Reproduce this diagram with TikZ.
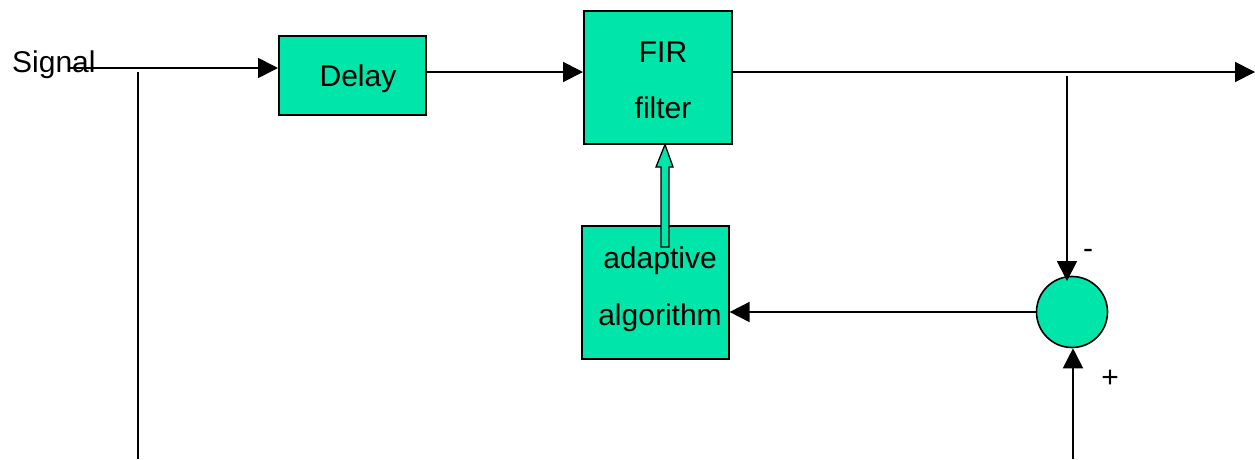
\documentclass[tikz,border=0pt]{standalone}
\usepackage{fontspec}
\setmainfont{Liberation Sans}
\usetikzlibrary{arrows.meta}
\definecolor{blockgreen}{RGB}{0,229,170}
\begin{document}
\begin{tikzpicture}[x=1pt,y=-1pt,
  blk/.style={draw=black, line width=1.6pt, fill=blockgreen, inner sep=0pt, anchor=north west},
  lbl/.style={font=\fontsize{30}{32}\selectfont, inner sep=0pt, anchor=base},
  wire/.style={line width=1.8pt},
  sig/.style={wire, -{Triangle[length=20pt,width=20pt]}}]
\useasboundingbox (0,0) rectangle (1255,459);

% blocks
\node[blk, minimum width=147pt, minimum height=79pt] (delay) at (278,35) {};
\node[blk, minimum width=148pt, minimum height=133pt] (fir) at (583,10) {};
\node[blk, minimum width=147pt, minimum height=133pt] (adapt) at (581,225) {};
\node[draw=black, line width=1.6pt, fill=blockgreen, circle, minimum size=71pt, inner sep=0pt] (sum) at (1072,312) {};

% block texts
\node[lbl] (tdelay) at (358,86) {Delay};
\node[lbl] (tfir1) at (663,62) {FIR};
\node[lbl] (tfir2) at (663,118) {filter};
\node[lbl] (tad1) at (660,268) {adaptive};
\node[lbl] (tad2) at (660,325) {algorithm};
\node[lbl, anchor=base west] (tsig) at (12,72) {Signal};
\node[lbl] (tminus) at (1088,258) {-};
\node[lbl] (tplus) at (1110,387) {+};

% wiring points
\coordinate (sigin) at (70,68);
\coordinate (tapsig) at (138,72);
\coordinate (tapbot) at (138,459);
\coordinate (outend) at (1255,72);
\coordinate (taperr) at (1067,76);
\coordinate (errin) at (1067,281);
\coordinate (refbot) at (1073,459);

% connectors
\draw[sig] (sigin) -- (delay.west |- sigin);
\draw[wire] (tapsig) -- (tapbot);
\draw[sig] (delay.east |- 0,72) -- (fir.west |- 0,72);
\draw[sig] (fir.east |- 0,72) -- (outend);
\draw[sig] (taperr) -- (errin);
\draw[sig] (refbot) -- (sum.south -| refbot);
\draw[sig] (sum.west) -- (adapt.east |- sum.west);

% hollow update arrow from the adaptive algorithm into the filter
\draw[line width=1.3pt, fill=blockgreen]
  (661,247) -- (661,167) -- (656,167) -- (fir.south -| 665,0) -- (673,167)
  -- (669,167) -- (669,247) -- cycle;
\end{tikzpicture}
\end{document}
